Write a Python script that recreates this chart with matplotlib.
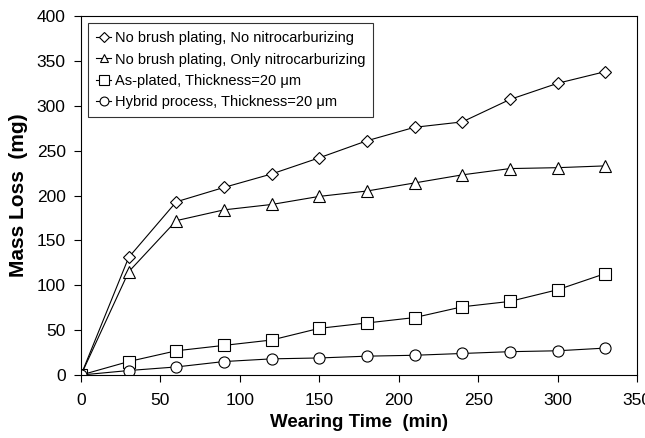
import matplotlib
matplotlib.use("Agg")
import matplotlib.pyplot as plt

plt.rcParams['font.family'] = ['Liberation Sans', 'DejaVu Sans']

time = [0, 30, 60, 90, 120, 150, 180, 210, 240, 270, 300, 330]
no_plating_no_nitro = [0, 131, 193, 209, 224, 242, 261, 276, 282, 307, 325, 338]
no_plating_only_nitro = [0, 115, 172, 184, 190, 199, 205, 214, 223, 230, 231, 233]
as_plated = [0, 15, 27, 33, 39, 52, 58, 64, 76, 82, 95, 113]
hybrid = [0, 5, 9, 15, 18, 19, 21, 22, 24, 26, 27, 30]

labels = ['No brush plating, No nitrocarburizing',
          'No brush plating, Only nitrocarburizing',
          'As-plated, Thickness=20 \u03bcm',
          'Hybrid process, Thickness=20 \u03bcm']
markers = ['D', '^', 's', 'o']
sizes = [6, 8, 8.5, 8]

fig = plt.figure(figsize=(6.45, 4.38), dpi=100)
ax = fig.add_axes([0.1256, 0.1438, 0.862, 0.8197])

series = [no_plating_no_nitro, no_plating_only_nitro, as_plated, hybrid]
for ys, lab, m, ms in zip(series, labels, markers, sizes):
    ax.plot(time, ys, color='black', lw=0.8, marker=m, ms=ms,
            mfc='white', mec='black', mew=0.8, label=lab)

ax.set_xlim(0, 350)
ax.set_ylim(0, 400)
ax.set_xticks(range(0, 351, 50))
ax.set_yticks(range(0, 401, 50))
ax.tick_params(direction='out', length=5, width=0.8, labelsize=12.5)
ax.tick_params(axis='x', pad=8)
ax.tick_params(axis='y', pad=6)
for s in ax.spines.values():
    s.set_linewidth(0.8)

ax.set_xlabel('Wearing Time  (min)', fontsize=13.5, fontweight='bold', labelpad=4)
ax.set_ylabel('Mass Loss  (mg)', fontsize=15, fontweight='bold', labelpad=6)

leg = ax.legend(loc='upper left', frameon=True, fancybox=False, fontsize=10.5,
                edgecolor='black', handlelength=1.0, borderaxespad=0.5,
                markerscale=0.8, labelspacing=0.5, handletextpad=0.25,
                borderpad=0.55)
leg.get_frame().set_linewidth(0.8)

fig.savefig('out.png', dpi=100)
